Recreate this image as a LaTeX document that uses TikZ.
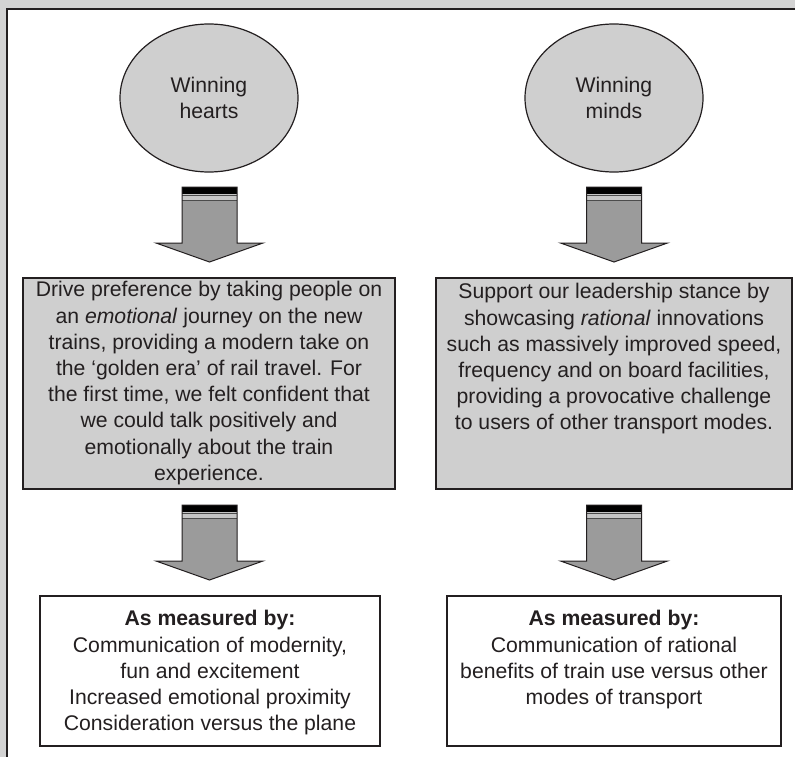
\documentclass[tikz,border=0pt]{standalone}
\usepackage{fontspec}
\setmainfont{Liberation Sans}
\usetikzlibrary{shapes.geometric}
\definecolor{pagegray}{HTML}{D3D3D3}
\definecolor{panelfill}{HTML}{CFCFCF}
\definecolor{arrowgray}{HTML}{9B9B9B}
\definecolor{bandgray}{HTML}{C6C6C6}
\definecolor{inkc}{HTML}{231F20}
\begin{document}
\begin{tikzpicture}[x=1pt,y=-1pt,
  every node/.style={text=inkc, font=\fontsize{21.2}{26.2}\selectfont},
  oval/.style={ellipse, draw=inkc, line width=1.2pt, fill=panelfill,
    minimum width=178pt, minimum height=148pt, inner sep=0pt, align=center},
  graybox/.style={rectangle, draw=inkc, line width=1.2pt, fill=panelfill, inner sep=0pt},
  whitebox/.style={rectangle, draw=inkc, line width=1.2pt, fill=white, inner sep=0pt},
  boxtext/.style={anchor=north, inner sep=0pt, align=center},
  blockarrow/.pic={
    \fill[arrowgray] (-27.5,0) -- (27.5,0) -- (27.5,56) -- (53.5,56) -- (0,75)
      -- (-53.5,56) -- (-27.5,56) -- cycle;
    \fill[black] (-27.5,0) rectangle (27.5,6.5);
    \fill[bandgray] (-27.5,6.5) rectangle (27.5,13.5);
    \draw[line width=0.8pt, draw=black!70] (-27.5,8.8) -- (27.5,8.8)
      (-27.5,13.5) -- (27.5,13.5);
    \draw[line width=1pt, draw=inkc, line join=miter] (-27.5,0) -- (27.5,0)
      -- (27.5,56) -- (53.5,56) -- (0,75) -- (-53.5,56) -- (-27.5,56) -- cycle;
  }]
\useasboundingbox (0,0) rectangle (795,757);

% page background and panel
\fill[pagegray] (0,0) rectangle (795,757);
\fill[white] (7,9) rectangle (795,757);
\draw[line width=1.5pt, draw=inkc] (7,757) -- (7,9) -- (795,9);

% goals
\node[oval] (hearts) at (209,98) {Winning\\hearts};
\node[oval] (minds) at (614,98) {Winning\\minds};

% arrows from goals to approaches
\pic at (209.5,187) {blockarrow};
\pic at (614,187) {blockarrow};

% approaches
\node[graybox, minimum width=372pt, minimum height=211pt] (drive) at (209,383.5) {};
\node[boxtext] (drivetext) at ([yshift=-4pt]drive.north)
  {Drive preference by taking people on\\
   an \textit{emotional} journey on the new\\
   trains, providing a modern take on\\
   the ‘golden era’ of rail travel. For\\
   the first time, we felt confident that\\
   we could talk positively and\\
   emotionally about the train\\
   experience.};

\node[graybox, minimum width=356pt, minimum height=211pt] (support) at (614,383.5) {};
\node[boxtext] (supporttext) at ([yshift=-6pt]support.north)
  {Support our leadership stance by\\
   showcasing \textit{rational} innovations\\
   such as massively improved speed,\\
   frequency and on board facilities,\\
   providing a provocative challenge\\
   to users of other transport modes.};

% arrows from approaches to measures
\pic at (209.5,505) {blockarrow};
\pic at (614,505) {blockarrow};

% measures
\node[whitebox, minimum width=340pt, minimum height=150pt] (measureL) at (210,671) {};
\node[boxtext] (measureLtext) at ([yshift=-15pt]measureL.north)
  {\textbf{As measured by:}\\
   Communication of modernity,\\
   fun and excitement\\
   Increased emotional proximity\\
   Consideration versus the plane};

\node[whitebox, minimum width=334pt, minimum height=150pt] (measureR) at (614,671) {};
\node[boxtext] (measureRtext) at ([yshift=-15pt]measureR.north)
  {\textbf{As measured by:}\\
   Communication of rational\\
   benefits of train use versus other\\
   modes of transport};
\end{tikzpicture}
\end{document}
